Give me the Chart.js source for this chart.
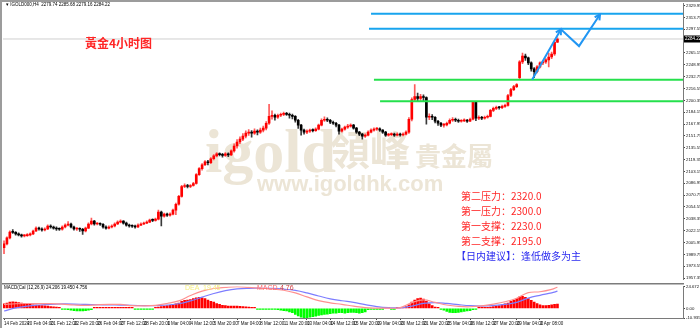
<!DOCTYPE html>
<html>
<head>
<meta charset="utf-8">
<script src="https://cdn.jsdelivr.net/npm/chart.js@4.4.1/dist/chart.umd.min.js"></script>
<style>
  html, body { margin: 0; padding: 0; background: #fff; }
  #wrap { position: relative; width: 700px; height: 328px; overflow: hidden; }
  canvas { position: absolute; left: 0; }
  #main { top: 0; }
  #macd { top: 283px; }
</style>
</head>
<body>
<div id="wrap">
  <canvas id="main" width="700" height="283"></canvas>
  <canvas id="macd" width="700" height="45"></canvas>
</div>
<script>
// 4H gold candles
const opens = [
  1998.7,2004.1,2012.2,2020.3,2019.8,2017.6,2016.3,2014.9,2015.3,2016.3,
  2017.6,2021.7,2025.7,2024.4,2023.0,2024.4,2028.5,2027.1,2025.7,2024.4,
  2024.0,2027.1,2029.8,2031.2,2027.1,2024.4,2024.6,2024.0,2021.7,2025.7,
  2031.2,2035.2,2031.2,2031.5,2030.9,2027.1,2025.7,2027.1,2028.5,2031.2,
  2033.9,2035.2,2032.5,2029.8,2028.5,2028.2,2027.1,2029.8,2031.2,2032.5,
  2033.9,2036.6,2036.2,2037.9,2047.4,2042.0,2044.7,2043.3,2044.7,2050.1,
  2058.2,2069.0,2082.5,2083.9,2082.5,2083.9,2086.6,2098.7,2106.9,2112.3,
  2116.3,2115.0,2120.4,2124.4,2127.1,2126.0,2125.0,2127.1,2125.8,2131.2,
  2137.9,2143.4,2147.4,2151.5,2155.5,2156.9,2155.5,2158.2,2156.9,2159.6,
  2162.3,2169.0,2178.5,2179.9,2177.2,2179.9,2181.2,2182.6,2181.2,2179.9,
  2178.5,2173.1,2166.4,2159.6,2156.9,2158.2,2159.6,2159.0,2160.9,2166.4,
  2173.1,2174.5,2173.1,2170.4,2169.0,2166.4,2158.2,2160.9,2163.6,2165.0,
  2166.4,2162.3,2156.9,2154.2,2151.5,2152.8,2156.9,2159.6,2160.9,2161.5,
  2159.6,2156.9,2152.8,2153.5,2154.2,2152.8,2154.2,2153.0,2154.2,2156.9,
  2174.5,2201.5,2205.6,2202.9,2205.6,2204.2,2177.2,2178.5,2177.2,2171.8,
  2169.0,2166.4,2166.8,2169.0,2173.1,2174.5,2173.1,2171.8,2172.3,2173.1,
  2171.8,2174.5,2197.5,2175.8,2177.2,2175.8,2177.2,2178.5,2186.6,2189.3,
  2190.7,2190.2,2192.1,2193.4,2206.9,2215.0,2219.1,2231.3,2252.9,2261.0,
  2258.3,2251.5,2243.4,2239.4,2246.1,2251.5,2252.9,2255.6,2259.6,2263.7,
  2279.74
];
const highs = [
  2008.2,2013.8,2022.0,2023.5,2021.0,2019.2,2017.5,2016.8,2018.0,2019.1,
  2023.0,2027.5,2027.0,2025.9,2026.1,2030.2,2030.0,2028.4,2027.2,2026.0,
  2028.6,2031.5,2034.6,2032.4,2028.3,2026.4,2025.9,2025.2,2027.0,2032.7,
  2039.2,2036.3,2033.1,2033.0,2031.8,2028.6,2028.9,2030.1,2032.8,2035.4,
  2036.9,2036.0,2033.7,2031.0,2030.0,2029.6,2031.3,2032.9,2034.0,2035.5,
  2038.0,2038.2,2039.4,2050.1,2048.9,2046.3,2046.0,2046.4,2051.6,2059.7,
  2070.5,2084.0,2086.0,2085.6,2085.3,2088.2,2100.1,2108.5,2113.9,2118.0,
  2118.2,2122.0,2126.1,2129.0,2128.7,2127.9,2128.8,2128.6,2132.8,2141.0,
  2146.8,2150.5,2155.0,2158.6,2160.5,2158.9,2161.3,2160.0,2162.5,2165.2,
  2171.2,2194.8,2186.0,2181.6,2181.5,2183.0,2184.4,2184.0,2182.8,2181.4,
  2179.6,2174.3,2167.6,2161.0,2160.0,2161.2,2161.3,2162.6,2168.0,2175.0,
  2177.8,2176.3,2174.4,2172.0,2170.3,2167.6,2162.5,2165.2,2167.7,2168.2,
  2167.5,2163.4,2158.0,2155.3,2154.4,2158.5,2161.4,2162.6,2163.2,2162.8,
  2160.5,2158.0,2155.2,2156.0,2155.6,2155.9,2155.5,2156.0,2158.8,2176.8,
  2203.6,2221.8,2210.4,2208.6,2207.8,2205.0,2182.0,2180.8,2178.0,2173.1,
  2170.2,2168.7,2170.6,2175.0,2176.9,2176.0,2174.6,2174.0,2175.0,2174.4,
  2176.2,2199.0,2198.4,2179.0,2178.6,2178.9,2180.3,2188.2,2191.0,2192.5,
  2192.0,2193.8,2195.1,2208.4,2216.6,2220.9,2223.4,2254.6,2265.0,2263.5,
  2259.6,2253.0,2245.1,2247.7,2253.0,2255.0,2257.5,2265.0,2266.2,2281.2,
  2285.68
];
const lows = [
  1990.6,2002.5,2011.0,2018.2,2016.1,2014.8,2013.2,2013.4,2014.1,2015.0,
  2016.5,2020.9,2022.8,2021.4,2021.8,2023.6,2025.5,2024.0,2022.6,2022.3,
  2022.9,2026.0,2028.7,2025.8,2022.9,2022.6,2021.0,2016.9,2020.4,2024.9,
  2030.0,2029.8,2029.9,2029.4,2025.6,2024.1,2024.5,2026.0,2027.4,2030.2,
  2032.8,2031.0,2028.2,2027.0,2026.6,2025.4,2026.2,2028.8,2030.3,2031.6,
  2033.0,2034.5,2035.0,2036.8,2028.5,2040.6,2041.5,2042.0,2043.5,2044.0,
  2057.0,2067.8,2080.9,2080.7,2081.0,2082.8,2085.8,2097.5,2105.0,2111.0,
  2112.0,2113.6,2119.0,2123.0,2124.2,2122.6,2123.8,2123.3,2124.6,2129.5,
  2135.0,2141.2,2145.3,2149.0,2152.5,2150.0,2153.6,2153.0,2155.0,2157.0,
  2159.8,2167.5,2174.5,2173.3,2175.6,2178.1,2179.5,2179.6,2176.0,2174.8,
  2170.5,2162.0,2152.8,2154.0,2154.8,2156.5,2157.1,2157.8,2160.0,2165.2,
  2171.5,2171.0,2168.6,2167.3,2164.0,2154.2,2156.8,2159.5,2162.0,2163.8,
  2160.9,2155.0,2152.0,2147.4,2149.8,2151.6,2155.7,2158.2,2159.3,2158.0,
  2155.2,2151.0,2151.3,2152.1,2151.1,2151.6,2151.4,2151.8,2153.0,2155.2,
  2172.3,2199.0,2199.4,2200.3,2199.5,2167.7,2174.0,2173.9,2169.6,2166.0,
  2164.2,2163.6,2165.3,2168.1,2171.6,2171.2,2170.0,2170.4,2171.0,2170.2,
  2171.0,2173.6,2172.5,2174.0,2174.0,2174.5,2176.0,2177.6,2185.0,2187.6,
  2188.4,2188.9,2190.6,2192.3,2205.5,2213.5,2217.8,2229.8,2250.6,2255.0,
  2249.0,2240.2,2231.3,2238.0,2244.6,2249.0,2250.8,2246.1,2257.4,2261.9,
  2279.16
];
const closes = [
  2004.1,2012.2,2020.3,2019.8,2017.6,2016.3,2014.9,2015.3,2016.3,2017.6,
  2021.7,2025.7,2024.4,2023.0,2024.4,2028.5,2027.1,2025.7,2024.4,2024.0,
  2027.1,2029.8,2031.2,2027.1,2024.4,2024.6,2024.0,2021.7,2025.7,2031.2,
  2035.2,2031.2,2031.5,2030.9,2027.1,2025.7,2027.1,2028.5,2031.2,2033.9,
  2035.2,2032.5,2029.8,2028.5,2028.2,2027.1,2029.8,2031.2,2032.5,2033.9,
  2036.6,2036.2,2037.9,2047.4,2042.0,2044.7,2043.3,2044.7,2050.1,2058.2,
  2069.0,2082.5,2083.9,2082.5,2083.9,2086.6,2098.7,2106.9,2112.3,2116.3,
  2115.0,2120.4,2124.4,2127.1,2126.0,2125.0,2127.1,2125.8,2131.2,2137.9,
  2143.4,2147.4,2151.5,2155.5,2156.9,2155.5,2158.2,2156.9,2159.6,2162.3,
  2169.0,2178.5,2179.9,2177.2,2179.9,2181.2,2182.6,2181.2,2179.9,2178.5,
  2173.1,2166.4,2159.6,2156.9,2158.2,2159.6,2159.0,2160.9,2166.4,2173.1,
  2174.5,2173.1,2170.4,2169.0,2166.4,2158.2,2160.9,2163.6,2165.0,2166.4,
  2162.3,2156.9,2154.2,2151.5,2152.8,2156.9,2159.6,2160.9,2161.5,2159.6,
  2156.9,2152.8,2153.5,2154.2,2152.8,2154.2,2153.0,2154.2,2156.9,2174.5,
  2201.5,2205.6,2202.9,2205.6,2204.2,2177.2,2178.5,2177.2,2171.8,2169.0,
  2166.4,2166.8,2169.0,2173.1,2174.5,2173.1,2171.8,2172.3,2173.1,2171.8,
  2174.5,2197.5,2175.8,2177.2,2175.8,2177.2,2178.5,2186.6,2189.3,2190.7,
  2190.2,2192.1,2193.4,2206.9,2215.0,2219.1,2221.8,2252.9,2261.0,2258.3,
  2251.5,2243.4,2239.4,2246.1,2251.5,2252.9,2255.6,2259.6,2263.7,2279.7,
  2284.22
];

// MACD histogram, one value per bar
const macdHist = [
  5,6,7,7.5,7,6.5,6,
  5.5,5,4.5,4,3.8,3.5,3,2.8,2.5,2,1.8,1.5,1,
  -0.5,-1,-1.5,-2,-2.5,-2.8,-3,-2.8,-2.5,-2,-1.5,
  0.5,1,1,1.2,1,0.8,0.6,0.5,0.4,0.3,0.2,0.3,0.5,0.3,
  -0.5,-1,-1.2,-1,-0.8,-0.5,-0.2,
  0.5,1.5,2,2.5,3,3.5,4,5,6,
  8,9,9.5,10,11,12,12.5,12,
  11,9.5,8,7,5.5,4.5,3.5,
  3,2.5,2.5,2.5,2.5,2.2,2,1.8,1.5,1.2,1,
  -0.5,-0.8,-1,-1,-1.2,-1,-1,-1.5,-2,-2.5,
  -3,-4,-5,-7,-8.5,-10,-10.9,-10.5,-10,
  -9.5,-9,-8,-7.5,-7,-6.5,-6,-5.5,-5.5,
  -5,-5,-5.5,-5,-4.5,-4.5,-5,-5.5,-5,-4,
  -1.5,-1,-0.8,-0.5,-0.3,-0.2,0.1,0.2,-0.2,-0.3,0.2,0.3,
  1,2,4,7,9.5,11,11.5,10.5,8,
  5,3,1.5,0.5,-0.5,
  -2,-3.5,-4.5,-5,-5,-4.5,-4,-3.5,-3,-2.5,-1.5,-0.8,
  0.5,0.8,1,1.2,1.5,2,2.5,3,
  4,5,6,8,9.5,11,13,13.5,
  12.5,11,9,7,5.5,4,3,
  3,3.5,4,4.5,4.756
];

// MACD lines, read every 4 bars
const macdBars = [0,4,8,12,16,20,24,28,32,36,40,44,48,52,56,60,64,68,72,76,80,84,88,92,96,
  100,104,108,112,116,120,124,128,132,136,140,144,148,152,156,160,164,168,172,176,180,184,188,190];
const difValues = [4.4,5.2,5.5,5.4,5.3,4.8,3.8,3.3,4.0,4.5,4.4,3.0,2.8,3.4,5.5,8.5,14.5,19.5,22.5,23.8,24.6,23.8,22.8,22.0,20.5,
  17.5,13.0,8.8,6.2,4.5,2.5,0.8,0.3,0.2,0.8,6.5,9.6,6.8,3.8,2.2,1.8,2.8,4.8,7.5,11.5,17.8,18.8,21.5,24.2];
const deaValues = [-3.0,0.5,2.6,3.8,4.6,5.0,4.9,4.4,4.1,3.9,3.7,3.4,3.1,3.0,3.8,5.2,8.5,12.8,16.8,20.0,22.0,22.7,22.8,22.6,21.8,
  20.3,17.5,14.0,10.8,8.6,6.8,4.2,2.0,0.8,0.6,2.6,5.6,6.6,5.6,4.2,3.0,2.6,3.2,4.4,6.8,11.6,14.8,17.5,19.45];

// time axis labels, one every 8 bars
const dateLabels = ['14 Feb 2024','20 Feb 04:00','21 Feb 12:00','22 Feb 20:00','26 Feb 04:00','27 Feb 12:00',
  '28 Feb 20:00','1 Mar 04:00','4 Mar 12:00','5 Mar 20:00','7 Mar 04:00','8 Mar 12:00','11 Mar 20:00',
  '13 Mar 04:00','14 Mar 12:00','15 Mar 20:00','19 Mar 04:00','20 Mar 12:00','21 Mar 20:00','25 Mar 04:00',
  '26 Mar 12:00','27 Mar 20:00','29 Mar 04:00','2 Apr 08:00'];
const priceTicks = [1957.35,1973.55,1989.75,2005.95,2022.15,2038.35,2054.55,2070.75,2086.95,2103.15,
  2119.35,2135.55,2151.75,2167.95,2184.15,2200.35,2216.55,2232.75,2248.95,2265.15,2297.55,2313.75,2329.95];
const macdTicks = [24.672, 0, -10.935];
const macdTickLabels = ['24.672', '0.00', '-10.935'];

// drawn support / resistance lines and the forecast path
const levelPrices = [2318.8, 2298.4, 2228.6, 2199.0];
const levelStartBars = [126.0, 125.3, 127.0, 129.1];
const pathBars = [181.3, 191.2, 197.4, 204.6];
const pathPrices = [2228.6, 2297.5, 2274.5, 2317.8];

const X_MIN = -0.35, X_MAX = 233.1;
const last = closes.length - 1;
const idx = closes.map((_, i) => i);
const isUp = i => closes[i] >= opens[i];
const levelColors = ['#18a4ee', '#18a4ee', '#25e04c', '#25e04c'];

function arrowHead(c, x0, y0, x1, y1) {
  const a = Math.atan2(y1 - y0, x1 - x0), len = 6;
  c.beginPath();
  c.moveTo(x1 - len * Math.cos(a - 0.5), y1 - len * Math.sin(a - 0.5));
  c.lineTo(x1, y1);
  c.lineTo(x1 - len * Math.cos(a + 0.5), y1 - len * Math.sin(a + 0.5));
  c.stroke();
}

const mainDecor = {
  id: 'mainDecor',
  beforeDatasetsDraw(chart) {
    const c = chart.ctx;
    c.save();
    c.fillStyle = '#ece5d6';
    c.textBaseline = 'alphabetic';
    c.font = 'bold 62px "Liberation Serif"';
    c.fillText('igold', 205, 172);
    c.font = 'bold 40px "Noto Sans CJK TC"';
    c.fillText('領峰', 330, 165);
    c.font = 'bold 26px "Noto Sans CJK TC"';
    c.fillText('貴金屬', 415, 166);
    c.font = 'bold 22px "Liberation Sans"';
    c.fillText('www.igoldhk.com', 257, 191);
    c.restore();
  },
  afterDatasetsDraw(chart) {
    const c = chart.ctx, xs = chart.scales.x, ys = chart.scales.y;
    const px = pathBars.map(v => xs.getPixelForValue(v));
    const py = pathPrices.map(v => ys.getPixelForValue(v));
    c.save();
    c.strokeStyle = '#2196f3';
    c.lineWidth = 2;
    arrowHead(c, px[0], py[0], px[1], py[1]);
    arrowHead(c, px[2], py[2], px[3], py[3]);
    c.restore();
  },
  afterDraw(chart) {
    const c = chart.ctx, ys = chart.scales.y;
    c.save();
    // window frame
    c.fillStyle = '#9c9c9c';
    c.fillRect(0, 0, 700, 2);
    c.fillRect(0, 0, 2, 283);
    // symbol header
    c.fillStyle = '#000';
    c.font = '4.5px "Liberation Sans"';
    c.textBaseline = 'middle';
    c.fillText('\u25BE IGOLD000,H4  2279.74 2285.68 2279.16 2284.22', 6, 5);
    // current price tag
    const yp = ys.getPixelForValue(closes[last]);
    c.fillRect(684, yp - 3.5, 16, 7);
    c.fillStyle = '#fff';
    c.fillText(closes[last].toFixed(2), 685, yp);
    // titles and notes
    c.fillStyle = '#ff2626';
    c.font = 'bold 12px "Noto Sans CJK SC"';
    c.fillText('黃金4小时图', 85, 43);
    c.font = '10px "Noto Sans CJK SC"';
    const notes = ['第二压力：2320.0', '第一压力：2300.0', '第一支撑：2230.0', '第二支撑：2195.0'];
    notes.forEach((t, k) => c.fillText(t, 461, 196 + k * 15));
    c.fillStyle = '#2a2af0';
    c.fillText('【日内建议】：逢低做多为主', 456, 256);
    c.restore();
  }
};

new Chart(document.getElementById('main'), {
  type: 'bar',
  data: {
    datasets: [
      {
        type: 'line',
        data: [{ x: X_MIN, y: closes[last] }, { x: X_MAX, y: closes[last] }],
        borderColor: '#cfcfcf', borderWidth: 1, pointRadius: 0, order: 9
      },
      {
        data: idx.map(i => ({ x: i, y: [lows[i], highs[i]] })),
        grouped: false, barThickness: 1,
        backgroundColor: idx.map(i => isUp(i) ? '#ff5a5a' : '#3a3a3a'),
        order: 8
      },
      {
        data: idx.map(i => ({ x: i, y: [opens[i], closes[i]] })),
        grouped: false, barThickness: 2, minBarLength: 1,
        backgroundColor: idx.map(i => isUp(i) ? '#ff0000' : '#000000'),
        order: 7
      },
      ...levelPrices.map((p, k) => ({
        type: 'line',
        data: [{ x: levelStartBars[k], y: p }, { x: X_MAX, y: p }],
        borderColor: levelColors[k], borderWidth: 2, pointRadius: 0, order: 2
      })),
      {
        type: 'line',
        data: pathBars.map((b, k) => ({ x: b, y: pathPrices[k] })),
        borderColor: '#2196f3', borderWidth: 2, pointRadius: 0, order: 1
      }
    ]
  },
  options: {
    responsive: false,
    animation: false,
    devicePixelRatio: 1,
    layout: { padding: { left: 3, top: 3, right: 0, bottom: 1 } },
    plugins: { legend: { display: false }, tooltip: { enabled: false } },
    scales: {
      x: {
        type: 'linear', min: X_MIN, max: X_MAX, offset: false,
        display: false,
        grid: { offset: false }
      },
      y: {
        position: 'right', min: 1955.45, max: 2332.65,
        afterBuildTicks: (axis) => { axis.ticks = priceTicks.map(v => ({ value: v })); },
        afterFit: (axis) => { axis.width = 17; },
        ticks: {
          font: { size: 4.3, family: 'Liberation Sans' }, color: '#111', padding: 1,
          callback: v => v.toFixed(2)
        },
        grid: { drawOnChartArea: false, tickLength: 2, color: '#444' },
        border: { color: '#7a7a7a', width: 1 }
      }
    }
  },
  plugins: [mainDecor]
});

const macdDecor = {
  id: 'macdDecor',
  afterDraw(chart) {
    const c = chart.ctx;
    c.save();
    c.fillStyle = '#7c7c7c';
    c.fillRect(0, 0, 684, 1.5);
    c.fillStyle = '#9c9c9c';
    c.fillRect(0, 0, 2, 45);
    c.textBaseline = 'middle';
    c.font = '4.5px "Liberation Sans"';
    c.fillStyle = '#000';
    c.fillText('MACD(Cal (12,26,9) 24.206 19.450 4.756', 4, 5);
    c.font = '7px "Liberation Sans"';
    c.fillStyle = '#f4ee80';
    c.fillText('DEA', 185, 5);
    c.fillText('19.45', 203, 5);
    c.fillStyle = '#ff6a6a';
    c.fillText('MACD', 257, 5);
    c.fillStyle = '#d04040';
    c.fillText('4.76', 280, 5);
    c.restore();
  }
};

new Chart(document.getElementById('macd'), {
  type: 'bar',
  data: {
    datasets: [
      {
        type: 'line',
        data: macdBars.map((b, k) => ({ x: b, y: difValues[k] })),
        borderColor: '#ff9090', borderWidth: 1.2, pointRadius: 0, tension: 0.4, order: 1
      },
      {
        type: 'line',
        data: macdBars.map((b, k) => ({ x: b, y: deaValues[k] })),
        borderColor: '#7d7dff', borderWidth: 1.2, pointRadius: 0, tension: 0.4, order: 2
      },
      {
        data: macdHist.map((v, i) => ({ x: i, y: v })),
        barThickness: 2, minBarLength: 1,
        backgroundColor: macdHist.map(v => v >= 0 ? '#ff0000' : '#00ff00'),
        order: 3
      }
    ]
  },
  options: {
    responsive: false,
    animation: false,
    devicePixelRatio: 1,
    layout: { padding: { left: 3, top: 1, right: 0, bottom: 0 } },
    plugins: { legend: { display: false }, tooltip: { enabled: false } },
    scales: {
      x: {
        type: 'linear', min: X_MIN, max: X_MAX, offset: false,
        afterBuildTicks: (axis) => { axis.ticks = dateLabels.map((_, k) => ({ value: k * 8 })); },
        afterFit: (axis) => { axis.height = 10; },
        ticks: {
          align: 'start', autoSkip: false, maxRotation: 0, padding: 1,
          font: { size: 4.5, family: 'Liberation Sans' }, color: '#111',
          callback: (v, k) => dateLabels[k]
        },
        grid: { drawOnChartArea: false, tickLength: 2, color: '#444', offset: false },
        border: { color: '#7a7a7a', width: 1 }
      },
      y: {
        position: 'right', min: -10.935, max: 24.672,
        afterBuildTicks: (axis) => { axis.ticks = macdTicks.map(v => ({ value: v })); },
        afterFit: (axis) => { axis.width = 17; },
        ticks: {
          font: { size: 4.3, family: 'Liberation Sans' }, color: '#111', padding: 1,
          callback: (v, k) => macdTickLabels[k]
        },
        grid: { drawOnChartArea: false, tickLength: 2, color: '#444' },
        border: { color: '#7a7a7a', width: 1 }
      }
    }
  },
  plugins: [macdDecor]
});
</script>
</body>
</html>
